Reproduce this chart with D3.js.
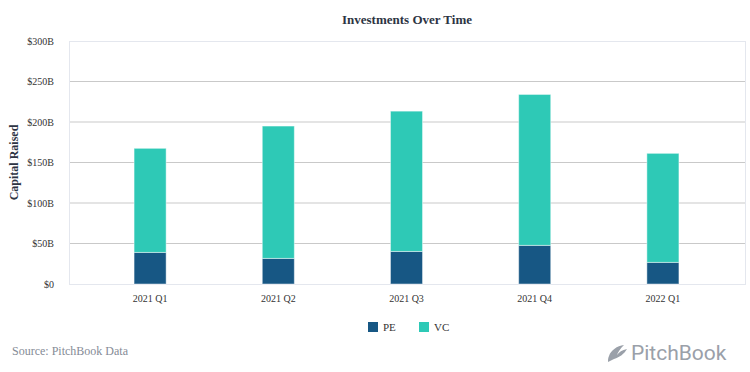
<!DOCTYPE html>
<html>
<head>
<meta charset="utf-8">
<script src="https://cdn.jsdelivr.net/npm/d3@7"></script>
<style>
  body { margin: 0; background: #fff; }
  svg { font-family: "Liberation Serif", "Times New Roman", serif; }
</style>
</head>
<body>
<svg width="750" height="372"></svg>
<script>
// data (billions USD)
var quarters = ["2021 Q1", "2021 Q2", "2021 Q3", "2021 Q4", "2022 Q1"];
var pe = [39, 31.6, 40.2, 47.7, 26.7];
var vc = [128.5, 163.4, 173.2, 186.3, 134.6];
var yTicks = [0, 50, 100, 150, 200, 250, 300];
var seriesNames = ["PE", "VC"];
var colors = ["#175784", "#2ec9b6"];

var svg = d3.select("svg");
var plot = { left: 69, right: 745, top: 41, bottom: 284 };

var x = d3.scaleBand()
    .domain(quarters)
    .range([86, 727])
    .paddingInner(0.75)
    .paddingOuter(0.375);

var y = d3.scaleLinear()
    .domain([0, 300])
    .range([plot.bottom, plot.top]);

// title
svg.append("text")
    .attr("x", (plot.left + plot.right) / 2)
    .attr("y", 24)
    .attr("text-anchor", "middle")
    .style("font-weight", "bold")
    .style("font-size", "13px")
    .style("fill", "#2d3443")
    .text("Investments Over Time");

// grid lines
svg.append("g")
    .selectAll("line")
    .data(yTicks.filter(function (d) { return d > 0 && d < 300; }))
    .enter()
    .append("line")
    .attr("x1", plot.left)
    .attr("x2", plot.right)
    .attr("y1", function (d) { return y(d); })
    .attr("y2", function (d) { return y(d); })
    .attr("stroke", "#c9c9c9")
    .attr("stroke-width", 1);

// plot border
svg.append("rect")
    .attr("x", plot.left + 0.5)
    .attr("y", plot.top + 0.5)
    .attr("width", plot.right - plot.left)
    .attr("height", plot.bottom - plot.top)
    .attr("fill", "none")
    .attr("stroke", "#e4e7ee")
    .attr("stroke-width", 1);

// y axis
var yAxis = svg.append("g")
    .attr("transform", "translate(" + (plot.left - 12) + ",0)")
    .call(d3.axisLeft(y).tickValues(yTicks).tickSize(0)
        .tickFormat(function (d) { return d === 0 ? "$0" : "$" + d + "B"; }));
yAxis.select(".domain").remove();
yAxis.selectAll("text")
    .style("font-family", "Liberation Serif, serif")
    .style("font-size", "10px")
    .style("fill", "#333");

svg.append("text")
    .attr("transform", "translate(18," + ((plot.top + plot.bottom) / 2) + ") rotate(-90)")
    .attr("text-anchor", "middle")
    .style("font-weight", "bold")
    .style("font-size", "12px")
    .style("fill", "#2d3443")
    .text("Capital Raised");

// x axis
var xAxis = svg.append("g")
    .attr("transform", "translate(0," + (plot.bottom + 8) + ")")
    .call(d3.axisBottom(x).tickSize(0));
xAxis.select(".domain").remove();
xAxis.selectAll("text")
    .style("font-family", "Liberation Serif, serif")
    .style("font-size", "10px")
    .style("fill", "#333");

// stacked bars
var rows = quarters.map(function (q, i) { return { q: q, PE: pe[i], VC: vc[i] }; });
var stacked = d3.stack().keys(seriesNames)(rows);

svg.append("g")
    .selectAll("g")
    .data(stacked)
    .enter()
    .append("g")
    .attr("fill", function (d, i) { return colors[i]; })
    .selectAll("rect")
    .data(function (d) { return d; })
    .enter()
    .append("rect")
    .attr("x", function (d) { return x(d.data.q); })
    .attr("y", function (d) { return y(d[1]); })
    .attr("width", x.bandwidth())
    .attr("height", function (d) { return y(d[0]) - y(d[1]); })
    .attr("stroke", "rgba(255,255,255,0.45)")
    .attr("stroke-width", 1);

// legend
var legend = svg.append("g")
    .selectAll("g")
    .data(seriesNames)
    .enter()
    .append("g")
    .attr("transform", function (d, i) { return "translate(" + (368 + i * 51) + ",322)"; });
legend.append("rect")
    .attr("width", 10)
    .attr("height", 10)
    .attr("fill", function (d, i) { return colors[i]; });
legend.append("text")
    .attr("x", 15)
    .attr("y", 9)
    .style("font-size", "11px")
    .style("fill", "#333")
    .text(function (d) { return d; });

// source
svg.append("text")
    .attr("x", 12)
    .attr("y", 355)
    .style("font-size", "12px")
    .style("fill", "#858b96")
    .text("Source: PitchBook Data");

// logo
var logo = svg.append("g").attr("transform", "translate(607,345)");
logo.append("path")
    .attr("d", "M2,11 C4,5 10,1 17,0 C13,4 11,7 10,10 C12,7 15,5 20,4 C17,9 13,12 7,14 C5,15 3,16 1,17 C1,15 1,13 2,11 Z")
    .attr("fill", "#9aa0a9");
svg.append("text")
    .attr("x", 631)
    .attr("y", 360)
    .style("font-family", "Roboto, 'Open Sans', sans-serif")
    .style("font-size", "21px")
    .style("fill", "#9aa0a9")
    .text("PitchBook");
</script>
</body>
</html>
